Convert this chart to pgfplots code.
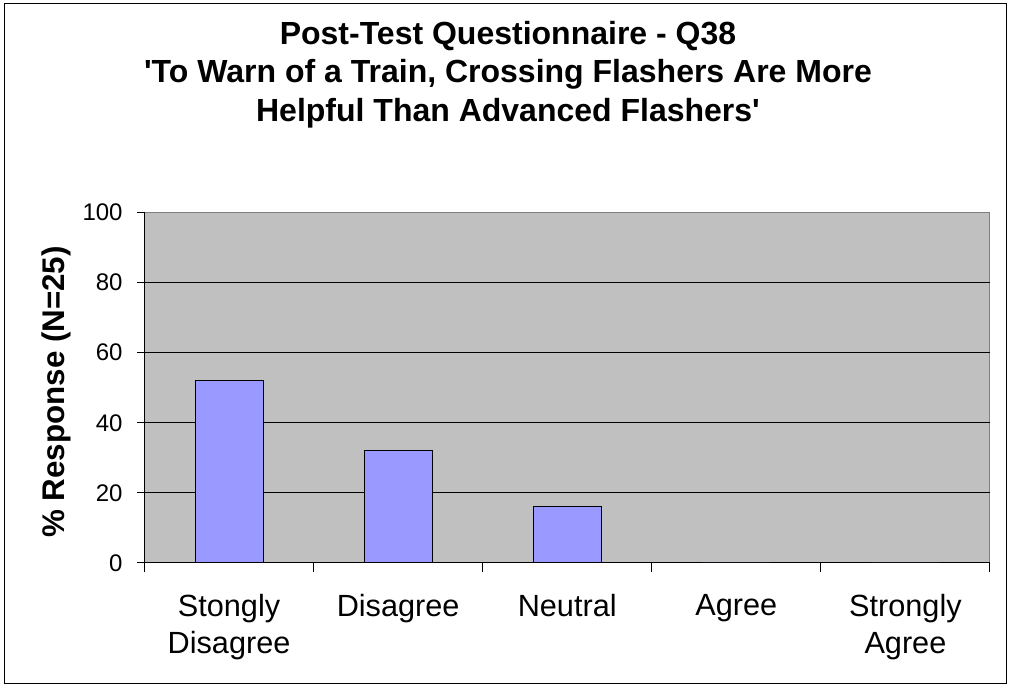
\documentclass[border=0pt]{standalone}
\usepackage{fontspec}
\setmainfont{Liberation Sans}
\usepackage{pgfplots}
\pgfplotsset{compat=1.18}
\definecolor{plotbg}{HTML}{C0C0C0}
\definecolor{barfill}{HTML}{9999FF}
\definecolor{frame}{HTML}{808080}
\begin{document}
\begin{tikzpicture}
\useasboundingbox (0,0) rectangle (757.5pt,516pt);
\draw[line width=0.75pt] (3pt,3pt) rectangle (754.5pt,513pt);
\begin{axis}[
  at={(108.375pt,93.75pt)}, anchor=south west,
  scale only axis, width=634.1pt, height=262.9pt,
  xmin=-0.5, xmax=4.5, ymin=0, ymax=100,
  axis x line*=bottom, axis y line*=left,
  axis line style={line width=0.75pt, black},
  axis background/.style={fill=plotbg, draw=frame, line width=0.75pt},
  tick align=outside,
  ytick={0,20,40,60,80,100},
  extra y ticks={20,40,60,80},
  extra y tick style={grid=major, major tick length=0pt, yticklabels={}},
  grid style={line width=0.75pt, black},
  major tick length=5.25pt,
  tick style={line width=0.75pt, black},
  xtick={0,1,2,3,4},
  x tick style={draw=none},
  minor xtick={-0.5,0.5,1.5,2.5,3.5,4.5},
  minor x tick style={draw=black, line width=0.75pt},
  minor tick length=7pt,
  xticklabels={{Stongly\\Disagree},{Disagree},{Neutral},{Agree},{Strongly\\Agree}},
  xticklabel style={font=\fontsize{23}{28}\selectfont, align=center, anchor=north, inner sep=0pt, yshift=-18pt},
  yticklabel style={font=\fontsize{18}{21}\selectfont, anchor=east, inner sep=0pt, xshift=-11pt},
  /pgf/number format/assume math mode=true,
  ybar, bar width=51pt,
]
\addplot[fill=barfill, draw=black, line width=0.75pt] coordinates {(0,52) (1,32) (2,16) (3,0) (4,0)};
\end{axis}
\node[font=\fontsize{24}{29}\bfseries, anchor=base] at (381pt,482.25pt) {Post-Test Questionnaire - Q38};
\node[font=\fontsize{24}{29}\bfseries, anchor=base] at (381pt,453.75pt) {\textquotesingle To Warn of a Train, Crossing Flashers Are More};
\node[font=\fontsize{24}{29}\bfseries, anchor=base] at (381pt,424.5pt) {Helpful Than Advanced Flashers\textquotesingle};
\node[font=\fontsize{23.5}{28}\bfseries, rotate=90, anchor=center] at (42pt,222pt) {\% Response (N=25)};
\end{tikzpicture}
\end{document}
